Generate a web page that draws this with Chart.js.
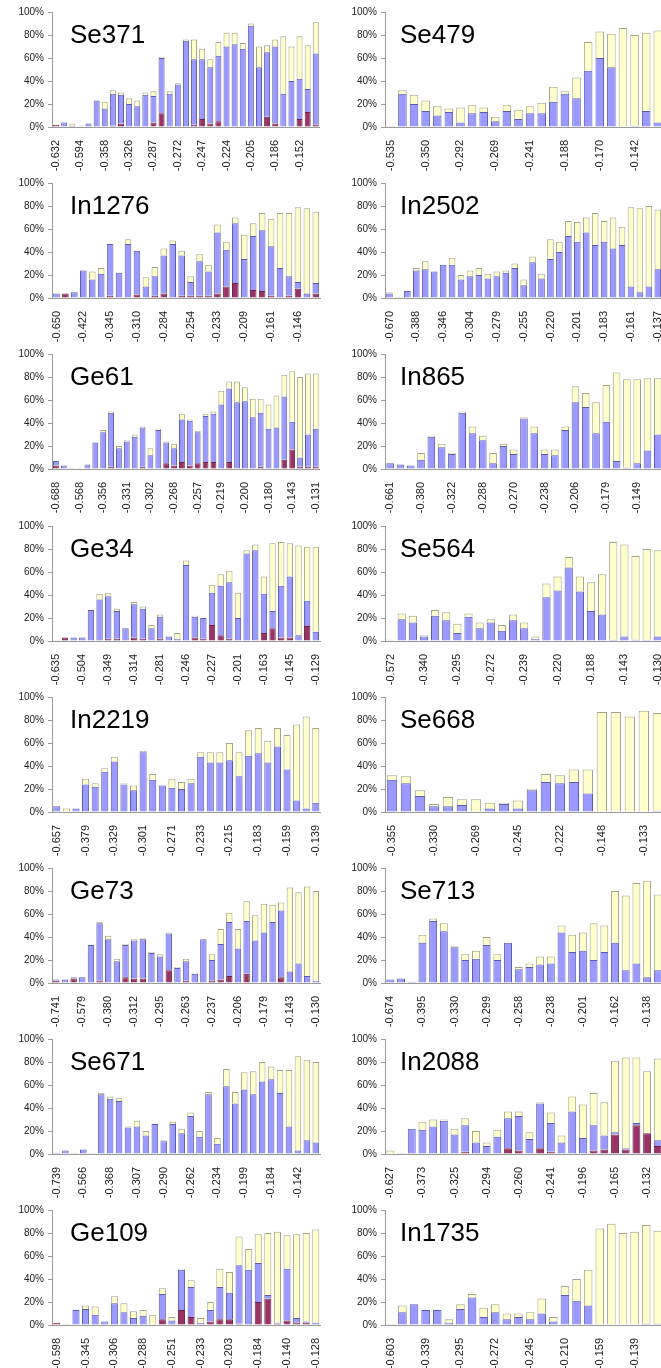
<!DOCTYPE html>
<html>
<head>
<meta charset="utf-8">
<script src="https://cdn.jsdelivr.net/npm/chart.js@4.4.1/dist/chart.umd.min.js"></script>
<style>
  html, body { margin: 0; padding: 0; background: #fff; }
  #sheet { position: relative; width: 661px; height: 1368px; overflow: hidden; }
  #sheet canvas { position: absolute; }
</style>
</head>
<body>
<div id="sheet"></div>
<script>
// ---- data (percent of each bin, stacked: red / blue / yellow) ----
const se371Ticks = ['-0.632', '-0.594', '-0.358', '-0.326', '-0.287', '-0.272', '-0.247', '-0.224', '-0.205', '-0.186', '-0.152'];
const se371Red = [2, 0, 1, 0, 0, 0, 0, 1, 3, 0, 0, 0, 4, 12, 0, 0, 0, 2, 7, 3, 5, 0, 0, 0, 0, 0, 9, 3, 0, 0, 7, 13, 2];
const se371Blue = [0, 4, 0, 0, 3, 23, 16, 28, 25, 20, 18, 28, 23, 48, 29, 37, 75, 57, 52, 49, 57, 70, 72, 68, 88, 52, 56, 67, 29, 40, 35, 20, 62];
const se371Yellow = [0, 0, 2, 1, 0, 0, 6, 3, 2, 5, 5, 2, 4, 1, 2, 1, 1, 17, 9, 7, 12, 12, 10, 5, 2, 18, 6, 6, 50, 30, 37, 38, 27];

const se479Ticks = ['-0.535', '-0.350', '-0.292', '-0.269', '-0.241', '-0.188', '-0.170', '-0.142'];
const se479Red = [0, 0, 0, 0, 0, 0, 0, 0, 0, 0, 0, 0, 0, 0, 0, 0, 0, 0, 0, 0, 0, 0, 0, 0];
const se479Blue = [0, 29, 20, 14, 10, 13, 4, 12, 13, 5, 14, 7, 12, 12, 22, 29, 25, 49, 60, 52, 0, 1, 14, 4];
const se479Yellow = [1, 3, 8, 9, 8, 3, 13, 7, 4, 4, 5, 8, 6, 9, 13, 2, 18, 25, 23, 29, 86, 79, 68, 80];

const in1276Ticks = ['-0.650', '-0.422', '-0.345', '-0.310', '-0.284', '-0.254', '-0.233', '-0.209', '-0.161', '-0.146'];
const in1276Red = [0, 4, 0, 0, 0, 0, 2, 0, 0, 3, 0, 2, 4, 0, 2, 2, 2, 2, 4, 10, 13, 0, 7, 6, 2, 0, 2, 8, 0, 4];
const in1276Blue = [4, 0, 5, 24, 16, 21, 45, 22, 47, 38, 10, 17, 33, 47, 35, 12, 30, 21, 53, 32, 52, 34, 47, 53, 43, 26, 17, 6, 4, 9];
const in1276Yellow = [0, 0, 0, 0, 7, 5, 0, 0, 4, 0, 8, 8, 6, 3, 4, 5, 6, 6, 7, 7, 5, 21, 11, 15, 24, 48, 55, 65, 74, 62];

const in2502Ticks = ['-0.670', '-0.388', '-0.346', '-0.304', '-0.279', '-0.255', '-0.220', '-0.201', '-0.183', '-0.161', '-0.137'];
const in2502Red = [0, 0, 0, 0, 0, 0, 0, 0, 0, 0, 0, 0, 0, 0, 0, 0, 0, 0, 0, 0, 0, 0, 0, 0, 0, 0, 0, 0, 0, 0, 0];
const in2502Blue = [4, 0, 6, 24, 25, 23, 29, 29, 16, 19, 20, 17, 19, 22, 26, 11, 31, 17, 34, 40, 54, 49, 57, 46, 49, 43, 46, 10, 5, 10, 25];
const in2502Yellow = [1, 1, 0, 2, 7, 0, 0, 6, 4, 5, 6, 4, 4, 2, 4, 5, 5, 4, 17, 9, 13, 17, 13, 28, 18, 27, 16, 69, 73, 70, 52];

const ge61Ticks = ['-0.688', '-0.568', '-0.356', '-0.331', '-0.302', '-0.268', '-0.257', '-0.219', '-0.200', '-0.180', '-0.143', '-0.131'];
const ge61Red = [3, 0, 0, 0, 0, 0, 0, 2, 0, 0, 0, 2, 0, 0, 5, 3, 6, 3, 5, 6, 6, 0, 6, 0, 0, 0, 2, 0, 0, 8, 17, 2, 2, 2];
const ge61Blue = [4, 3, 0, 0, 4, 23, 32, 47, 18, 24, 28, 34, 12, 34, 18, 15, 37, 39, 27, 40, 42, 56, 64, 58, 59, 45, 47, 35, 36, 55, 24, 8, 28, 33];
const ge61Yellow = [0, 0, 1, 1, 0, 0, 2, 1, 2, 1, 2, 1, 6, 1, 1, 4, 5, 1, 1, 2, 2, 12, 6, 18, 12, 16, 12, 21, 28, 19, 44, 70, 53, 48];

const in865Ticks = ['-0.661', '-0.380', '-0.322', '-0.288', '-0.270', '-0.238', '-0.206', '-0.179', '-0.149'];
const in865Red = [0, 0, 0, 0, 0, 0, 0, 0, 0, 0, 0, 0, 0, 0, 0, 0, 0, 0, 0, 0, 0, 0, 0, 0, 0, 0, 0];
const in865Blue = [5, 4, 3, 8, 28, 19, 13, 49, 31, 25, 5, 20, 13, 44, 31, 13, 12, 34, 58, 54, 31, 41, 7, 1, 5, 16, 30];
const in865Yellow = [0, 0, 0, 6, 1, 3, 1, 1, 6, 4, 9, 2, 4, 1, 6, 4, 5, 3, 14, 12, 27, 32, 77, 77, 73, 63, 49];

const ge34Ticks = ['-0.635', '-0.504', '-0.349', '-0.314', '-0.281', '-0.246', '-0.227', '-0.201', '-0.163', '-0.145', '-0.129'];
const ge34Red = [0, 3, 0, 0, 0, 0, 2, 2, 0, 3, 2, 0, 2, 0, 0, 0, 3, 2, 14, 5, 2, 0, 0, 0, 7, 11, 3, 3, 0, 13, 0];
const ge34Blue = [0, 0, 3, 3, 27, 36, 37, 24, 11, 29, 26, 11, 19, 4, 2, 66, 18, 18, 28, 43, 49, 20, 76, 79, 34, 15, 45, 53, 5, 22, 8];
const ge34Yellow = [1, 0, 0, 0, 0, 5, 3, 2, 0, 2, 2, 3, 2, 0, 5, 4, 1, 0, 7, 10, 10, 22, 3, 5, 15, 59, 38, 29, 78, 47, 74];

const se564Ticks = ['-0.572', '-0.340', '-0.295', '-0.272', '-0.239', '-0.220', '-0.188', '-0.143', '-0.130'];
const se564Red = [0, 0, 0, 0, 0, 0, 0, 0, 0, 0, 0, 0, 0, 0, 0, 0, 0, 0, 0, 0, 0, 0, 0, 0, 0];
const se564Blue = [0, 19, 16, 4, 22, 18, 7, 21, 11, 16, 9, 18, 11, 2, 38, 44, 64, 43, 26, 23, 1, 4, 1, 1, 4];
const se564Yellow = [1, 5, 6, 1, 5, 7, 8, 3, 5, 3, 5, 5, 5, 2, 12, 12, 9, 13, 25, 35, 85, 80, 73, 79, 75];

const in2219Ticks = ['-0.657', '-0.379', '-0.329', '-0.301', '-0.271', '-0.233', '-0.215', '-0.183', '-0.159', '-0.139'];
const in2219Red = [0, 0, 0, 0, 0, 0, 0, 0, 0, 0, 0, 0, 0, 0, 0, 0, 0, 0, 0, 0, 0, 0, 0, 0, 0, 0, 0, 0];
const in2219Blue = [5, 0, 3, 24, 22, 35, 44, 24, 19, 52, 28, 23, 21, 20, 25, 48, 43, 43, 45, 31, 49, 51, 43, 57, 37, 10, 3, 8];
const in2219Yellow = [0, 3, 0, 5, 3, 3, 4, 1, 4, 1, 5, 0, 8, 6, 4, 4, 9, 9, 15, 21, 22, 22, 19, 16, 30, 66, 80, 65];

const se668Ticks = ['-0.355', '-0.330', '-0.269', '-0.245', '-0.222', '-0.148', '-0.133'];
const se668Red = [0, 0, 0, 0, 0, 0, 0, 0, 0, 0, 0, 0, 0, 0, 0, 0, 0, 0, 0, 0];
const se668Blue = [28, 25, 14, 5, 5, 6, 0, 3, 7, 3, 19, 26, 25, 26, 16, 0, 0, 0, 0, 1];
const se668Yellow = [4, 6, 5, 2, 8, 5, 11, 5, 1, 7, 1, 7, 7, 11, 21, 87, 87, 83, 88, 85];

const ge73Ticks = ['-0.741', '-0.579', '-0.380', '-0.312', '-0.295', '-0.263', '-0.237', '-0.206', '-0.179', '-0.143', '-0.130'];
const ge73Red = [2, 0, 4, 0, 0, 2, 0, 0, 5, 4, 4, 0, 0, 11, 0, 2, 0, 0, 2, 3, 6, 0, 8, 0, 0, 0, 5, 0, 0, 0, 0];
const ge73Blue = [1, 3, 1, 5, 33, 50, 38, 19, 28, 33, 34, 26, 23, 32, 13, 17, 8, 38, 18, 31, 47, 30, 46, 37, 44, 53, 58, 10, 17, 6, 2];
const ge73Yellow = [0, 0, 0, 0, 0, 1, 3, 2, 1, 1, 1, 1, 2, 1, 1, 2, 1, 0, 5, 13, 8, 17, 17, 22, 25, 15, 7, 73, 62, 78, 78];

const se713Ticks = ['-0.674', '-0.395', '-0.330', '-0.299', '-0.258', '-0.238', '-0.201', '-0.162', '-0.138'];
const se713Red = [0, 0, 0, 0, 0, 0, 0, 0, 0, 0, 0, 0, 0, 0, 0, 0, 0, 0, 0, 0, 0, 0, 0, 0, 0, 0];
const se713Blue = [3, 4, 1, 35, 54, 45, 31, 20, 21, 33, 20, 35, 12, 14, 16, 17, 44, 27, 28, 20, 27, 35, 11, 17, 5, 11];
const se713Yellow = [0, 0, 0, 7, 2, 7, 1, 5, 7, 7, 5, 0, 2, 3, 7, 6, 6, 15, 16, 32, 23, 45, 65, 70, 84, 66];

const se671Ticks = ['-0.739', '-0.566', '-0.368', '-0.307', '-0.290', '-0.262', '-0.234', '-0.199', '-0.184', '-0.142'];
const se671Red = [0, 0, 0, 0, 0, 0, 0, 0, 0, 0, 0, 0, 0, 0, 0, 0, 0, 0, 0, 0, 0, 0, 0, 0, 0, 0, 0, 0, 0, 0];
const se671Blue = [1, 3, 0, 4, 0, 52, 48, 46, 23, 24, 16, 26, 11, 26, 18, 33, 15, 52, 9, 59, 44, 56, 52, 63, 65, 53, 24, 3, 12, 10];
const se671Yellow = [0, 0, 1, 0, 1, 1, 2, 3, 1, 5, 4, 0, 1, 2, 4, 3, 5, 2, 5, 15, 10, 15, 20, 17, 11, 20, 49, 82, 70, 70];

const in2088Ticks = ['-0.627', '-0.373', '-0.325', '-0.294', '-0.260', '-0.241', '-0.196', '-0.165', '-0.132'];
const in2088Red = [0, 0, 0, 0, 0, 0, 0, 2, 0, 0, 0, 5, 3, 0, 5, 2, 0, 0, 0, 3, 4, 17, 4, 25, 18, 7];
const in2088Blue = [0, 0, 22, 21, 24, 29, 17, 23, 10, 7, 15, 26, 30, 13, 39, 25, 10, 37, 14, 22, 12, 2, 1, 2, 0, 5];
const in2088Yellow = [3, 1, 0, 7, 6, 1, 5, 6, 10, 3, 6, 6, 4, 6, 1, 9, 6, 13, 29, 28, 29, 62, 79, 57, 54, 71];

const ge109Ticks = ['-0.598', '-0.345', '-0.306', '-0.288', '-0.251', '-0.233', '-0.203', '-0.184', '-0.140', '-0.128'];
const ge109Red = [2, 0, 0, 0, 0, 0, 0, 0, 0, 0, 0, 5, 0, 13, 7, 0, 3, 5, 5, 1, 0, 20, 23, 1, 4, 2, 2, 0];
const ge109Blue = [0, 0, 13, 14, 9, 3, 19, 11, 6, 8, 0, 22, 4, 35, 26, 2, 10, 28, 23, 51, 48, 34, 3, 1, 45, 4, 1, 2];
const ge109Yellow = [0, 1, 0, 3, 7, 0, 6, 8, 6, 5, 9, 5, 3, 1, 6, 4, 7, 16, 18, 25, 18, 25, 54, 79, 29, 73, 77, 81];

const in1735Ticks = ['-0.603', '-0.339', '-0.295', '-0.272', '-0.245', '-0.210', '-0.159', '-0.139'];
const in1735Red = [0, 0, 0, 0, 0, 0, 0, 0, 0, 0, 0, 0, 0, 0, 0, 0, 0, 0, 0, 0, 0, 0, 0, 0];
const in1735Blue = [0, 11, 18, 13, 13, 2, 14, 24, 7, 11, 5, 7, 5, 10, 3, 26, 21, 17, 0, 0, 0, 0, 1, 1];
const in1735Yellow = [1, 6, 0, 0, 0, 3, 4, 3, 8, 7, 5, 3, 6, 13, 4, 8, 19, 31, 84, 88, 80, 81, 86, 81];

const yTicks = [0, 20, 40, 60, 80, 100];

// panels in reading order: left, right per row
const panels = [
    ['Se371', se371Ticks, se371Red, se371Blue, se371Yellow],
    ['Se479', se479Ticks, se479Red, se479Blue, se479Yellow],
    ['In1276', in1276Ticks, in1276Red, in1276Blue, in1276Yellow],
    ['In2502', in2502Ticks, in2502Red, in2502Blue, in2502Yellow],
    ['Ge61', ge61Ticks, ge61Red, ge61Blue, ge61Yellow],
    ['In865', in865Ticks, in865Red, in865Blue, in865Yellow],
    ['Ge34', ge34Ticks, ge34Red, ge34Blue, ge34Yellow],
    ['Se564', se564Ticks, se564Red, se564Blue, se564Yellow],
    ['In2219', in2219Ticks, in2219Red, in2219Blue, in2219Yellow],
    ['Se668', se668Ticks, se668Red, se668Blue, se668Yellow],
    ['Ge73', ge73Ticks, ge73Red, ge73Blue, ge73Yellow],
    ['Se713', se713Ticks, se713Red, se713Blue, se713Yellow],
    ['Se671', se671Ticks, se671Red, se671Blue, se671Yellow],
    ['In2088', in2088Ticks, in2088Red, in2088Blue, in2088Yellow],
    ['Ge109', ge109Ticks, ge109Red, ge109Blue, ge109Yellow],
    ['In1735', in1735Ticks, in1735Red, in1735Blue, in1735Yellow]
];

// draws the big panel name inside the plot
const panelTitle = {
    id: 'panelTitle',
    afterDraw(chart, args, opts) {
        const ctx = chart.ctx;
        ctx.save();
        ctx.font = '26px "Liberation Sans", Arial, sans-serif';
        ctx.fillStyle = '#000';
        ctx.textBaseline = 'alphabetic';
        ctx.fillText(opts.text, opts.x, opts.y);
        ctx.restore();
    }
};

const FONT = '"Liberation Sans", Arial, sans-serif';
const AXIS = '#9a9a9a';
const sheet = document.getElementById('sheet');
const ROW_PITCH = 171.2;

panels.forEach((p, i) => {
    const [name, ticks, red, blue, yellow] = p;
    const col = i % 2;
    const row = Math.floor(i / 2);

    const canvas = document.createElement('canvas');
    // right column runs past the page edge and gets cut, as in the source figure
    const w = col === 0 ? 334 : 346;
    const h = 171;
    canvas.width = w;
    canvas.height = h;
    canvas.style.left = (col === 0 ? 0 : 330) + 'px';
    canvas.style.top = Math.round(row * ROW_PITCH) + 'px';
    sheet.appendChild(canvas);

    // one category per bin, label only every third bin
    const labels = red.map((v, k) => (k % 3 === 0 && ticks[k / 3] !== undefined) ? ticks[k / 3] : '');
    const yWidth = col === 0 ? 52 : 55;

    new Chart(canvas, {
        type: 'bar',
        data: {
            labels: labels,
            datasets: [{
                label: 'red',
                data: red,
                backgroundColor: '#993366',
                borderColor: '#6b2446',
                borderWidth: 1
            }, {
                label: 'blue',
                data: blue,
                backgroundColor: '#9999ff',
                borderColor: '#5c5ca6',
                borderWidth: 1
            }, {
                label: 'yellow',
                data: yellow,
                backgroundColor: '#ffffcc',
                borderColor: '#a3a38c',
                borderWidth: 1
            }]
        },
        options: {
            responsive: false,
            animation: false,
            devicePixelRatio: 1,
            layout: { padding: { top: 12, right: 0, bottom: 0, left: 0 } },
            datasets: { bar: { categoryPercentage: 1, barPercentage: 0.74 } },
            plugins: {
                legend: { display: false },
                tooltip: { enabled: false },
                panelTitle: { text: name, x: 70, y: 43 }
            },
            scales: {
                x: {
                    stacked: true,
                    grid: { display: false },
                    border: { display: true, color: AXIS, width: 1 },
                    ticks: {
                        autoSkip: false,
                        minRotation: 90,
                        maxRotation: 90,
                        padding: 5,
                        color: '#222',
                        font: { family: FONT, size: 11 }
                    },
                    afterFit: s => { s.height = 44; }
                },
                y: {
                    stacked: true,
                    min: 0,
                    max: 100,
                    afterBuildTicks: s => { s.ticks = yTicks.map(v => ({ value: v })); },
                    grid: { display: true, drawOnChartArea: false, drawTicks: true, tickLength: 4, color: AXIS },
                    border: { display: true, color: AXIS, width: 1 },
                    ticks: {
                        padding: 4,
                        color: '#222',
                        font: { family: FONT, size: 10 },
                        callback: v => v + '%'
                    },
                    afterFit: s => { s.width = yWidth; }
                }
            }
        },
        plugins: [panelTitle]
    });
});
</script>
</body>
</html>
